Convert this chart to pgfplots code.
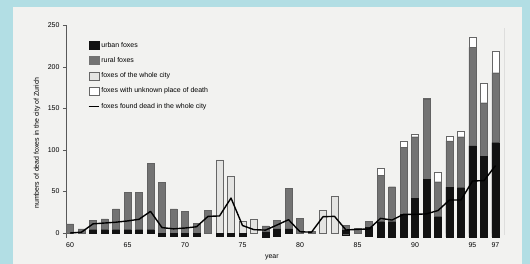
\documentclass[border=0pt]{standalone}
\usepackage{fontspec}
\setmainfont{Liberation Sans}
\usepackage{pgfplots}
\pgfplotsset{compat=1.18}
\definecolor{bordercol}{RGB}{178,222,228}
\definecolor{paper}{RGB}{242,242,240}
\definecolor{rural}{RGB}{115,115,115}
\definecolor{urban}{RGB}{18,18,18}
\definecolor{whole}{RGB}{228,228,226}
\pgfplotsset{
  sqlegend/.style={legend image code/.code={\draw[##1] (0bp,-4bp) rectangle (10bp,4bp);}},
  lnlegend/.style={legend image code/.code={\draw[##1] (0bp,0bp) -- (10bp,0bp);}},
  mybar/.style={ybar, bar width=7bp, bar shift=0pt, forget plot},
}
\begin{document}
\begin{tikzpicture}
\fill[bordercol] (0,0) rectangle (530bp,264bp);
\fill[paper] (12.5bp,0) rectangle (522bp,257bp);
\begin{axis}[
  at={(66bp,26bp)}, anchor=south west,
  scale only axis, width=438bp, height=213bp,
  xmin=59.65, xmax=97.74, ymin=-6, ymax=250,
  axis lines*=left,
  x axis line style={draw=none},
  axis line style={line width=0.5pt, gray!70!black},
  ytick={0,50,100,150,200,250},
  xtick={60,65,70,75,80,85,90,95,97},
  xticklabels={60,65,70,75,80,85,90,95,97},
  tick align=outside, ytick pos=left,
  major tick length=3bp,
  x tick style={draw=none},
  y tick style={gray!70!black},
  /pgf/number format/assume math mode=true,
  tick label style={font=\fontsize{7}{8}\selectfont},
  xticklabel style={yshift=1.5bp},
  xlabel={year}, ylabel={numbers of dead foxes in the city of Zurich},
  xlabel style={at={(axis description cs:0.47,-0.089)}, anchor=center, font=\fontsize{7}{8}\selectfont},
  ylabel style={at={(axis description cs:-0.066,0.446)}, anchor=center, font=\fontsize{7}{8}\selectfont},
  legend style={at={(axis description cs:0.043,0.94)}, anchor=north west, draw=none, fill=none,
    font=\fontsize{7}{8}\selectfont, row sep=4.8pt},
  legend cell align=left,
]
\addlegendimage{sqlegend, draw=urban, fill=urban}
\addlegendentry{urban foxes}
\addlegendimage{sqlegend, draw=rural, fill=rural}
\addlegendentry{rural foxes}
\addlegendimage{sqlegend, draw=gray!80!black, fill=whole}
\addlegendentry{foxes of the whole city}
\addlegendimage{sqlegend, draw=gray!80!black, fill=white}
\addlegendentry{foxes with unknown place of death}
\addlegendimage{lnlegend, black, line width=1.4pt}
\addlegendentry{foxes found dead in the whole city}

% foxes with unknown place of death (cumulative top)
\addplot[mybar, fill=white, draw=gray!80!black, line width=0.5pt] coordinates {
(87,77.7) (89,110.6) (90,119) (91,162.5) (92,72.5) (93,116.6) (94,121.8) (95,235.8) (96,179.5) (97,218)};
% foxes of the whole city
\addplot[mybar, fill=whole, draw=gray!80!black, line width=0.5pt] coordinates {
(73,88) (74,68) (75,14) (76,16.5) (82,27.6) (83,43.6)};
% rural foxes (cumulative top)
\addplot[mybar, fill=rural, draw=rural!85!black, line width=0.3pt] coordinates {
(60,11) (61,5) (62,15) (63,17) (64,29) (65,49) (66,49) (67,84) (68,61) (69,29) (70,26) (71,12) (72,27)
(77,8.5) (78,15) (79,54) (80,17.6) (81,2) (84,9) (85,6) (86,14) (87,69.7) (88,55.7) (89,103) (90,115.7)
(91,160.7) (92,61.7) (93,110.6) (94,115.7) (95,223) (96,156.6) (97,192.7)};
% urban foxes
\addplot[mybar, fill=urban, draw=urban, line width=0.3pt] coordinates {
(62,4) (63,4) (64,4) (65,4) (66,4) (67,4) (77,1.5) (78,5) (79,5) (84,3) (86,7) (87,13.6) (88,13.6)
(89,22.8) (90,41.7) (91,64.5) (92,19.6) (93,55) (94,54.5) (95,104.6) (96,92.5) (97,108.5)};
% urban marks below the base line
\addplot[mybar, fill=urban, draw=urban, line width=0.3pt] coordinates {
(68,-4) (69,-4) (70,-4) (71,-4) (73,-4) (74,-4) (75,-4) (77,-5) (78,-4) (84,-2) (86,-4)
(87,-4.5) (88,-4.5) (89,-4.5) (90,-4.5) (91,-4.5) (92,-4.5) (93,-4.5) (94,-4.5) (95,-4.5) (96,-4.5) (97,-4.5)};
% foxes found dead in the whole city
\addplot[sharp plot, black, line width=1.4pt, line join=round, mark=none, forget plot] coordinates {
(60,0) (61,1) (62,11) (63,12) (64,13) (65,14.5) (66,16.5) (67,26) (68,6.5) (69,5) (70,6) (71,7.5)
(72,20) (73,20.5) (74,42) (75,9) (76,4) (77,3.5) (78,9.6) (79,16) (80,1.5) (81,1) (82,19.6) (83,20)
(84,3.6) (85,4.4) (86,4.8) (87,17.6) (88,15.6) (89,22.4) (90,22.4) (91,23) (92,27) (93,39.7) (94,39.7)
(95,62.5) (96,63) (97,81)};
\draw[gray!70!black, line width=0.5pt] (rel axis cs:1,0.015) -- (rel axis cs:1,0.985);
\end{axis}
\end{tikzpicture}
\end{document}
